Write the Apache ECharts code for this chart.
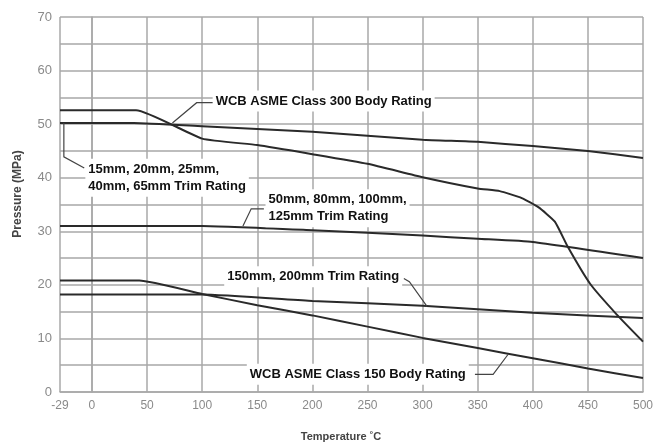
<!DOCTYPE html>
<html>
<head>
<meta charset="utf-8">
<script src="https://cdn.jsdelivr.net/npm/echarts@6/dist/echarts.min.js"></script>
<style>
  html, body { margin: 0; padding: 0; background: #fff; }
  #main { width: 657px; height: 447px; }
</style>
</head>
<body>
<div id="main"></div>
<script>
// tick labels
var xTicks = [-29, 0, 50, 100, 150, 200, 250, 300, 350, 400, 450, 500];

// WCB ASME Class 300 Body Rating (steep drop after 400)
var body300T = [-29, 40, 100, 150, 200, 250, 300, 350, 370, 390, 405, 420, 432, 452, 476, 500];
var body300P = [52.6, 52.6, 47.3, 46.1, 44.4, 42.6, 40.1, 38.0, 37.5, 36.2, 34.5, 31.8, 27.0, 20.2, 14.5, 9.4];

// 15mm, 20mm, 25mm, 40mm, 65mm Trim Rating
var trimSmallT = [-29, 38, 100, 200, 300, 350, 400, 450, 500];
var trimSmallP = [50.2, 50.2, 49.6, 48.6, 47.1, 46.7, 45.9, 45.0, 43.7];

// 50mm, 80mm, 100mm, 125mm Trim Rating
var trimMidT = [-29, 100, 200, 300, 350, 400, 500];
var trimMidP = [31.0, 31.0, 30.2, 29.2, 28.6, 28.0, 25.0];

// 150mm, 200mm Trim Rating
var trimLargeT = [-29, 100, 200, 300, 400, 500];
var trimLargeP = [18.2, 18.2, 17.0, 16.1, 14.8, 13.8];

// WCB ASME Class 150 Body Rating
var body150T = [-29, 43, 100, 150, 200, 250, 300, 350, 400, 450, 500];
var body150P = [20.8, 20.8, 18.3, 16.2, 14.3, 12.2, 10.1, 8.2, 6.3, 4.4, 2.6];

function pairs(t, p) {
    var res = [];
    for (var i = 0; i < t.length; i++) {
        res.push([t[i], p[i]]);
    }
    return res;
}

var myChart = echarts.init(document.getElementById('main'));
var gridColor = '#a8a8a8';
var lineColor = '#2a2a2a';

function lineSeries(name, t, p) {
    return {
        name: name,
        type: 'line',
        symbol: 'none',
        smooth: 0.15,
        lineStyle: { color: lineColor, width: 2 },
        data: pairs(t, p)
    };
}

myChart.setOption({
    animation: false,
    grid: { left: 60, right: 14, top: 17, bottom: 55 },
    xAxis: {
        type: 'value',
        min: -29,
        max: 500,
        axisLine: { lineStyle: { color: gridColor, width: 1.5 } },
        axisTick: { show: false, customValues: xTicks },
        axisLabel: {
            customValues: xTicks,
            color: '#8a8a8a',
            fontSize: 12,
            margin: 8,
            fontFamily: 'Liberation Sans'
        },
        splitLine: { show: true, lineStyle: { color: gridColor, width: 1.5 } }
    },
    yAxis: {
        type: 'value',
        min: 0,
        max: 70,
        interval: 10,
        axisLine: { show: true, lineStyle: { color: gridColor, width: 1.5 } },
        axisTick: { show: false },
        minorTick: { show: false, splitNumber: 2 },
        axisLabel: { color: '#8a8a8a', fontSize: 13, margin: 8, fontFamily: 'Liberation Sans' },
        splitLine: { show: true, lineStyle: { color: gridColor, width: 1.5 } },
        minorSplitLine: { show: true, lineStyle: { color: gridColor, width: 1.5 } }
    },
    series: [
        lineSeries('WCB ASME Class 300 Body Rating', body300T, body300P),
        lineSeries('15mm, 20mm, 25mm, 40mm, 65mm Trim Rating', trimSmallT, trimSmallP),
        lineSeries('50mm, 80mm, 100mm, 125mm Trim Rating', trimMidT, trimMidP),
        lineSeries('150mm, 200mm Trim Rating', trimLargeT, trimLargeP),
        lineSeries('WCB ASME Class 150 Body Rating', body150T, body150P)
    ]
});

// annotations: text anchor and leader points in data units (temperature, pressure)
var notes = [
    { text: 'WCB ASME Class 300 Body Rating', at: [109.5, 54.3], leader: [[111, 54.0], [95, 54.0], [73, 50.2]] },
    { text: '15mm, 20mm, 25mm,\n40mm, 65mm Trim Rating', at: [-6, 40.0], leader: [[-25.5, 50.2], [-25.5, 43.9], [-7, 41.8]] },
    { text: '50mm, 80mm, 100mm,\n125mm Trim Rating', at: [157.5, 34.3], leader: [[137, 31.0], [144.5, 34.2], [156, 34.2]] },
    { text: '150mm, 200mm Trim Rating', at: [120, 21.5], leader: [[283, 21.2], [288, 20.6], [304, 16.0]] },
    { text: 'WCB ASME Class 150 Body Rating', at: [140.5, 3.3], leader: [[347.5, 3.3], [364, 3.3], [377.5, 7.0]] }
];

var graphics = [];
function each(arr, fn) { for (var i = 0; i < arr.length; i++) fn(arr[i], i); }
each(notes, function (n) {
    var pts = [];
    each(n.leader, function (p) {
        pts.push(myChart.convertToPixel({ gridIndex: 0 }, p));
    });
    graphics.push({
        type: 'polyline',
        z: 50,
        shape: { points: pts },
        style: { stroke: '#444', lineWidth: 1.2, fill: null }
    });
    var pos = myChart.convertToPixel({ gridIndex: 0 }, n.at);
    graphics.push({
        type: 'text',
        z: 60,
        x: pos[0],
        y: pos[1],
        style: {
            text: n.text,
            font: 'bold 13px "Liberation Sans", Arial, sans-serif',
            fill: '#111',
            lineHeight: 17,
            verticalAlign: 'middle',
            backgroundColor: '#fff',
            padding: [2, 3, 2, 3]
        }
    });
});

// axis titles
graphics.push({
    type: 'text',
    x: 18,
    y: 194,
    rotation: Math.PI / 2,
    style: {
        text: 'Pressure (MPa)',
        font: 'bold 12px "Liberation Sans", Arial, sans-serif',
        fill: '#444',
        align: 'center',
        verticalAlign: 'middle'
    }
});
graphics.push({
    type: 'text',
    x: 341,
    y: 437,
    style: {
        text: 'Temperature \u02daC',
        font: 'bold 11px "Liberation Sans", Arial, sans-serif',
        fill: '#444',
        align: 'center',
        verticalAlign: 'middle'
    }
});

myChart.setOption({ graphic: graphics });
</script>
</body>
</html>
